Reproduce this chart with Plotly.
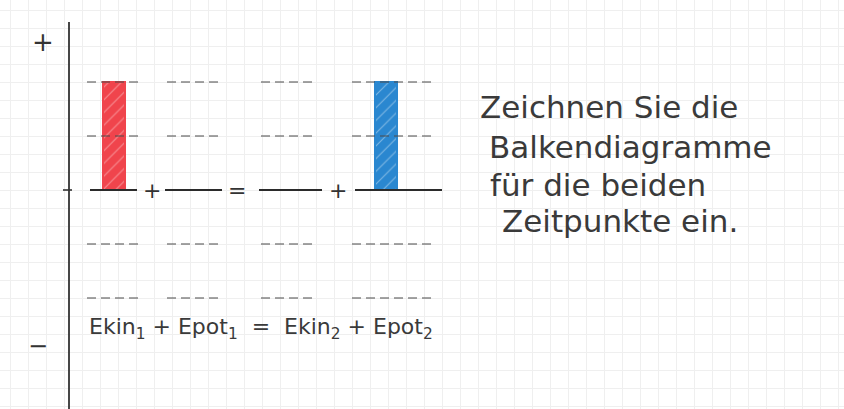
import plotly.graph_objects as go

# Energy bar chart worksheet: two moments, kinetic + potential energy
categories = ["Ekin1", "Epot1", "Ekin2", "Epot2"]
energy = [2, 0, 0, 2]            # bar heights in energy units
bar_colors = ["#f0444c", None, None, "#2a87d0"]
levels = [2, 1, -1, -2]          # dashed helper levels
operators = ["+", "=", "+"]
equation = "Ekin<sub>1</sub> + Epot<sub>1</sub>  =  Ekin<sub>2</sub> + Epot<sub>2</sub>"
task_lines = ["Zeichnen Sie die", "Balkendiagramme", "für die beiden", "Zeitpunkte ein."]

# layout geometry (horizontal units = page pixels, vertical = energy units)
W, H = 844, 409
UNIT = 54.0
Y_TOP = 190 / UNIT
Y_BOT = -(H - 190) / UNIT
slot_spans = [(87, 143), (167, 219), (261, 315), (352, 432)]
base_spans = [(90, 137), (165, 222), (259, 322), (355, 442)]
bar_centers = [114, 193, 288, 386]
op_x = [152, 237, 338]
AXIS_X = 69

fig = go.Figure()

# helper levels, dashed
for lv in levels:
    for (a, b) in slot_spans:
        fig.add_trace(go.Scatter(x=[a, b], y=[lv, lv], mode="lines",
                                 line=dict(color="#4a4a4a", width=1.2, dash="9px,5px"),
                                 hoverinfo="skip", showlegend=False))

# energy bars
for cat, val, col, cx in zip(categories, energy, bar_colors, bar_centers):
    if val and col:
        fig.add_trace(go.Bar(x=[cx], y=[val], base=0, width=22, name=cat,
                             marker=dict(color=col, line=dict(color=col, width=2),
                                         pattern=dict(shape="/", fgcolor="white",
                                                      fgopacity=0.4, size=9, solidity=0.12)),
                             showlegend=False))

# zero level, solid
for (a, b) in base_spans:
    fig.add_trace(go.Scatter(x=[a, b], y=[0, 0], mode="lines",
                             line=dict(color="#2b2b2b", width=1.8),
                             hoverinfo="skip", showlegend=False))

# vertical axis with tick at zero
fig.add_shape(type="line", x0=AXIS_X, x1=AXIS_X, y0=Y_BOT, y1=(190 - 22) / UNIT,
              line=dict(color="#333333", width=1.8))
fig.add_shape(type="line", x0=AXIS_X - 6, x1=AXIS_X + 3, y0=0, y1=0,
              line=dict(color="#333333", width=1.6))

fig.add_annotation(x=43, y=(190 - 42) / UNIT, text="+", showarrow=False,
                   font=dict(size=26, color="#333333", family="DejaVu Sans"))
fig.add_annotation(x=38, y=(190 - 346) / UNIT, text="−", showarrow=False,
                   font=dict(size=24, color="#333333", family="DejaVu Sans"))

for ox, op in zip(op_x, operators):
    fig.add_annotation(x=ox, y=0, text=op, showarrow=False,
                       font=dict(size=22, color="#333333", family="DejaVu Sans"))

fig.add_annotation(x=87, y=(190 - 328) / UNIT, text=equation, showarrow=False,
                   xanchor="left", yanchor="middle",
                   font=dict(size=22, color="#3a3a3a", family="DejaVu Sans"))

task_x = [478, 487, 488, 500]
task_y = [107, 147, 185, 221]
for tx, ty, line in zip(task_x, task_y, task_lines):
    fig.add_annotation(x=tx, y=(190 - ty) / UNIT, text=line, showarrow=False,
                       xanchor="left", yanchor="middle",
                       font=dict(size=31, color="#3a3a3a", family="DejaVu Sans"))

fig.update_layout(
    width=W, height=H, margin=dict(l=0, r=0, t=0, b=0),
    paper_bgcolor="white", plot_bgcolor="white",
    xaxis=dict(range=[0, W], showticklabels=False, ticks="", zeroline=False,
               showgrid=True, gridcolor="#efefef", gridwidth=1, tick0=10, dtick=18,
               fixedrange=True),
    yaxis=dict(range=[Y_BOT, Y_TOP], showticklabels=False, ticks="", zeroline=False,
               showgrid=True, gridcolor="#efefef", gridwidth=1, tick0=0, dtick=1 / 3,
               fixedrange=True),
    bargap=0,
)

fig.write_html("out.html")
